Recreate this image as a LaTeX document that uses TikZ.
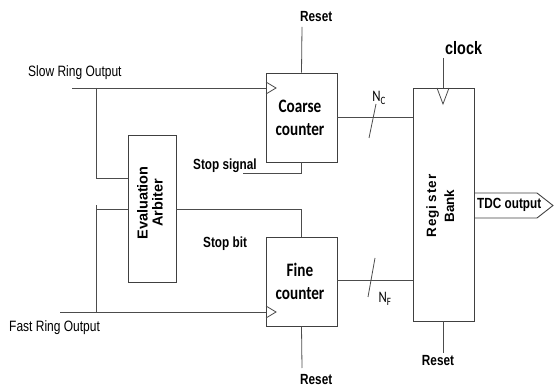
\documentclass[tikz,border=0pt]{standalone}
\usepackage{fontspec}
\usepackage{graphicx}
\setmainfont{Liberation Sans}
\newfontfamily\calib{Carlito}
\newcommand\hsq[1]{\scalebox{0.8}[1]{#1}}
\newcommand\vsq[1]{\rotatebox{90}{#1}}
\begin{document}
\begin{tikzpicture}[x=1pt,y=-1pt,
  wire/.style={draw=black!70, line width=0.8pt},
  blk/.style={draw=black!75, line width=0.9pt, inner sep=0pt},
  plain/.style={font=\fontsize{15}{18}\selectfont, inner sep=0pt},
  lbl/.style={font=\bfseries\fontsize{14.7}{17}\selectfont, inner sep=0pt},
  ctr/.style={font=\calib\bfseries\fontsize{19}{23}\selectfont, inner sep=0pt},
  rot/.style={font=\bfseries\fontsize{14.5}{15}\selectfont, inner sep=0pt}]
\useasboundingbox (0,0) rectangle (554,387);
% blocks
\node[blk, minimum width=71pt, minimum height=89pt] (coarse) at (301.5,117.5) {};
\node[ctr] (coarsetxt) at (300,119) {\hsq{\begin{tabular}{@{}c@{}}Coarse\\counter\end{tabular}}};
\node[blk, minimum width=71pt, minimum height=89pt] (fine) at (301.5,281.5) {};
\node[ctr] (finetxt) at (300,283) {\hsq{\begin{tabular}{@{}c@{}}Fine\\counter\end{tabular}}};
\node[blk, minimum width=48pt, minimum height=147pt] (arb) at (152,208.5) {};
\node[rot] (arbtxt) at (152,203) {\vsq{\begin{tabular}{@{}c@{}}Evaluation\\Arbiter\end{tabular}}};
\node[blk, minimum width=61pt, minimum height=233pt] (reg) at (443.5,204.5) {};
\node[rot, font=\bfseries\fontsize{13.5}{16}\selectfont] (regtxt) at (442,206) {\vsq{\begin{tabular}{@{}c@{}}R\kern1pt e\kern1pt g\kern1pt i\kern3pt s\kern1pt t\kern1pt e\kern1pt r\\[2pt]Bank\end{tabular}}};
% clock triangles
\draw[wire] (266,82) -- (276,88) -- (266,94);
\draw[wire] (266,306) -- (276,312) -- (266,318);
\draw[wire] (437,88) -- (443,104) -- (449,88);
% TDC output
\draw[blk] (474,193) -- (537,193) -- (553,205.5) -- (537,218) -- (474,218);
\node[lbl, anchor=west] (tdc) at (477,205) {\hsq{TDC output}};
% input signals
\coordinate (sin) at (72,88);
\coordinate (fin) at (60,312);
\node[plain, anchor=west] (slow) at (28,73) {\hsq{Slow Ring Output}};
\node[plain, anchor=west] (fast) at (9,328) {\hsq{Fast Ring Output}};
\draw[wire] (sin) -- (coarse.west |- sin);
\draw[wire] (96,88) |- (arb.west |- 0,178);
\draw[wire] (fin) -- (fine.west |- fin);
\draw[wire] (96,312) -- (96,205);
\draw[wire] (96,209) -- (arb.west |- 0,209);
% arbiter output / stop bit
\draw[wire] (arb.east |- 0,209) -| (fine.north);
\node[lbl, anchor=west] (stopbit) at (203,244) {\hsq{Stop bit}};
% stop signal
\coordinate (ss) at (243,173);
\draw[wire] (ss) -| (coarse.south);
\node[lbl, anchor=west] (stopsig) at (193,166) {\hsq{Stop signal}};
% resets
\node[lbl, anchor=west] (rst1) at (300,17) {\hsq{Reset}};
\draw[wire] (coarse.north) -- (302,27);
\node[lbl, anchor=west] (rst2) at (300,380) {\hsq{Reset}};
\draw[wire] (fine.south) -- (302,368);
\node[lbl] (rst3) at (438,361) {\hsq{Reset}};
\draw[wire] (443,321) -- (443,353);
% clock
\node[lbl, anchor=west, font=\bfseries\fontsize{18}{20}\selectfont] (clk) at (445,48) {\hsq{clock}};
\draw[wire] (443,58) -- (443,88);
% buses
\draw[wire] (coarse.east |- 0,117) -- (reg.west |- 0,117);
\draw[wire] (369,138) -- (376,104);
\node[font=\calib\fontsize{16}{18}\selectfont, inner sep=0pt] (nc) at (379,98) {\hsq{N\textsubscript{C}}};
\draw[wire] (fine.east |- 0,280) -- (reg.west |- 0,280);
\draw[wire] (368,297) -- (375,258);
\node[font=\calib\fontsize{16}{18}\selectfont, inner sep=0pt] (nf) at (385,299) {\hsq{N\textsubscript{F}}};
\end{tikzpicture}
\end{document}
